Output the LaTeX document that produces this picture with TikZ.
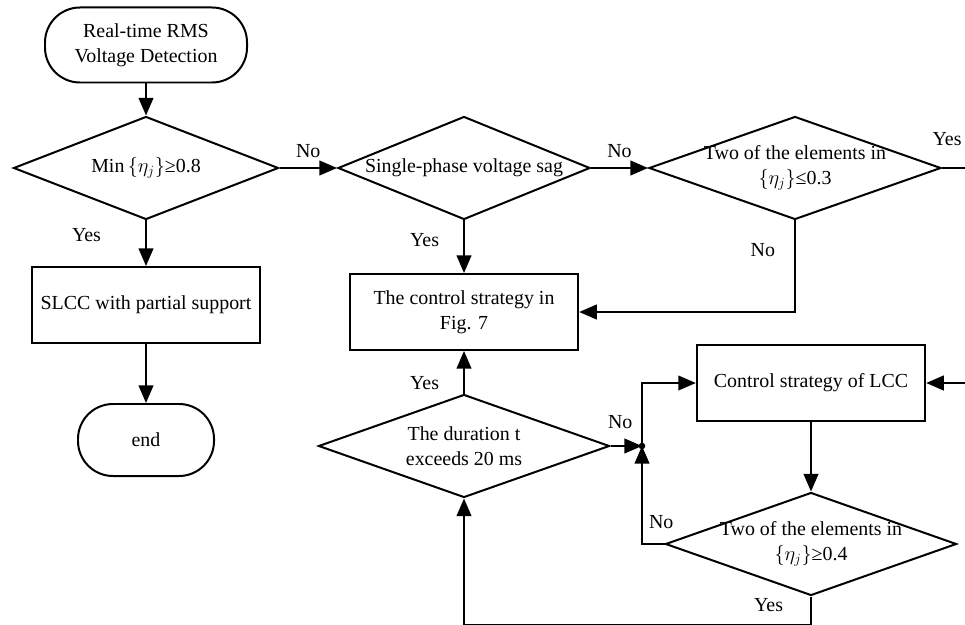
\documentclass[tikz,border=0pt]{standalone}
\usepackage{fontspec}
\setmainfont{Liberation Serif}
\usetikzlibrary{
  shapes.geometric,
  arrows.meta,
  positioning
}

\begin{document}
\begin{tikzpicture}[
  x=0.03cm, y=-0.03cm,
  font=\fontsize{17}{21.5}\selectfont,
  terminal/.style={
    draw, line width=1.7pt,
    rounded corners=1.05cm,
    align=center, inner sep=0pt},
  process/.style={
    draw, line width=1.7pt, align=center,
    minimum width=6.85cm,
    minimum height=2.28cm},
  decision/.style={
    draw, diamond, line width=1.7pt,
    inner sep=0pt, minimum height=3.09cm,
    label={[align=center]center:#1}},
  arrow/.style={
    -{Triangle[length=15pt, width=12.5pt]},
    line width=1.7pt},
  answer/.style={inner sep=2pt}
]
\useasboundingbox (0,0) rectangle (965,624);
\clip (0,0) rectangle (965,624);

% left column
\node[terminal, minimum width=6.06cm,
  minimum height=2.25cm]
  (detect) at (146,45)
  {Real-time RMS\\Voltage Detection};
\node[decision={Min\,$\{\eta_j\}$≥0.8},
  minimum width=7.95cm]
  (minv) at (146,168) {};
\node[process] (slcc) at (146,305)
  {SLCC with partial support};
\node[terminal, minimum width=4.08cm,
  minimum height=2.16cm]
  (end) at (146,440) {end};

% middle column
\node[decision={Single-phase voltage sag},
  minimum width=7.56cm]
  (single) at (464,168) {};
\node[process] (fig7) at (464,312)
  {The control strategy in\\Fig. 7};
\node[decision={The duration t\\exceeds 20 ms},
  minimum width=8.73cm]
  (dur) at (464,446) {};

% right column
\node[decision={Two of the elements in\\$\{\eta_j\}$≤0.3},
  minimum width=8.76cm]
  (twolow) at (795,168) {};
\node[process] (lcc) at (811,383)
  {Control strategy of LCC};
\node[decision={Two of the elements in\\$\{\eta_j\}$≥0.4},
  minimum width=8.73cm]
  (twohigh) at (811,544) {};

\coordinate (join) at (642,446);
\fill (join) circle (2.8pt);

\draw[arrow] (detect.south) -- (minv.north);
\draw[arrow] (minv.east) --
  node[answer, above=0.2cm] {No} (single.west);
\draw[arrow] (single.east) --
  node[answer, above=0.22cm] {No} (twolow.west);
\draw[arrow] (twolow.east)
  -- node[answer, pos=0, above=0.58cm,
     xshift=0.15cm] {Yes} (990,168)
  |- (lcc.east);
\draw[arrow] (minv.south) --
  node[answer, pos=0.32, left=1.25cm] {Yes}
  (slcc.north);
\draw[arrow] (slcc.south) -- (end.north);
\draw[arrow] (single.south) --
  node[answer, pos=0.37, left=0.65cm] {Yes}
  (fig7.north);
\draw[arrow] (twolow.south)
  |- node[answer, pos=0.16, left=0.5cm] {No}
  (fig7.east);
\draw[arrow] (dur.north) --
  node[answer, pos=0.25, left=0.65cm] {Yes}
  (fig7.south);
\draw[arrow] (dur.east) --
  node[answer, pos=0.31, above=0.41cm] {No}
  (join);
\draw[arrow] (join) |- (lcc.west);
\draw[arrow] (lcc.south) -- (twohigh.north);
\draw[arrow] (twohigh.west)
  -| node[answer, pos=0, above=0.35cm,
     xshift=-0.1cm] {No} (join);
\draw[arrow] (twohigh.south)
  -- node[answer, pos=0.3, left=0.74cm] {Yes}
  ++(0,28) -| (dur.south);
\end{tikzpicture}
\end{document}
